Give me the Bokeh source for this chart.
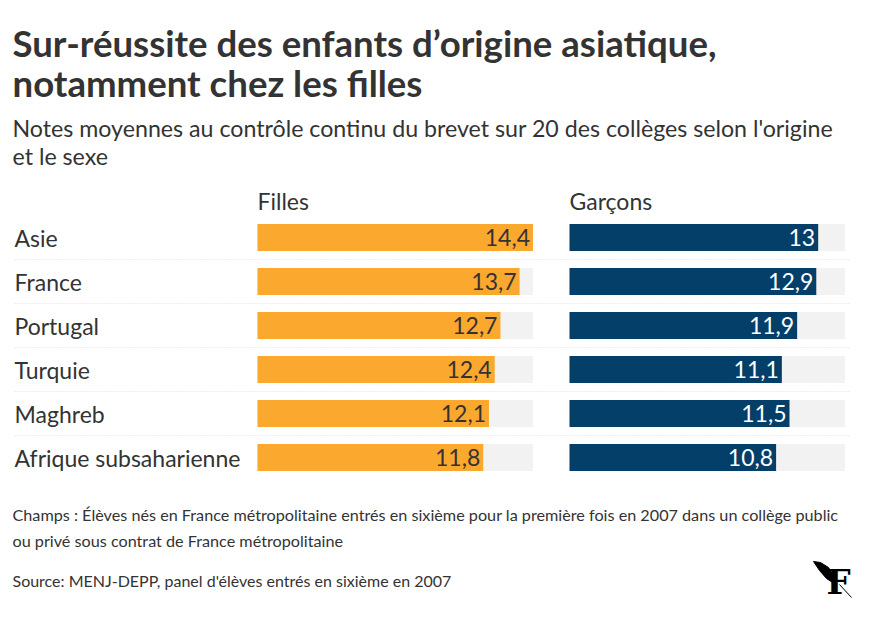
from bokeh.plotting import figure
from bokeh.models import Range1d
from bokeh.core.properties import value
from bokeh.embed import file_html
from bokeh.resources import INLINE

# ---- data ----
categories = ["Asie", "France", "Portugal", "Turquie", "Maghreb", "Afrique subsaharienne"]
filles = [14.4, 13.7, 12.7, 12.4, 12.1, 11.8]
garcons = [13.0, 12.9, 11.9, 11.1, 11.5, 10.8]
series_names = ["Filles", "Garçons"]

title_lines = ["Sur-réussite des enfants d’origine asiatique,", "notamment chez les filles"]
subtitle_lines = ["Notes moyennes au contrôle continu du brevet sur 20 des collèges selon l'origine",
                  "et le sexe"]
note_lines = ["Champs : Élèves nés en France métropolitaine entrés en sixième pour la première fois en 2007 dans un collège public",
              "ou privé sous contrat de France métropolitaine"]
source_line = "Source: MENJ-DEPP, panel d'élèves entrés en sixième en 2007"

# ---- layout constants ----
W, H = 870, 629
PX_PER_UNIT = 19.13
F0, G0 = 257, 569          # pixel where each panel's zero sits
ROW0, ROW_STEP = 237, 44   # pixel center of first row, row spacing
BAR_H = 0.61
ORANGE = "#fba82f"
BLUE = "#033f69"
BG = "#f2f2f2"
TXT = "#333333"
FONT = "Lato"

fmt = lambda v: f"{v:g}".replace(".", ",")
idx = list(range(len(categories)))
vmax = max(filles + garcons)

p = figure(width=W, height=H, output_backend="svg", toolbar_location=None,
           x_range=Range1d(0, W),
           y_range=Range1d((H - ROW0) / ROW_STEP, -ROW0 / ROW_STEP),
           x_axis_location=None, y_axis_location=None, min_border=0,
           background_fill_color="white", border_fill_color="white")
p.outline_line_color = None
p.grid.visible = False
p.extra_x_ranges = {
    "f": Range1d(-F0 / PX_PER_UNIT, (W - F0) / PX_PER_UNIT),
    "g": Range1d(-G0 / PX_PER_UNIT, (W - G0) / PX_PER_UNIT),
}
p.extra_y_ranges = {"py": Range1d(H, 0)}

# separators
p.segment(x0=[14] * (len(idx) - 1), x1=[850] * (len(idx) - 1),
          y0=[i + 0.5 for i in idx[:-1]], y1=[i + 0.5 for i in idx[:-1]],
          line_color="#dddddd", line_width=1, line_dash="1 2")

# bars
for rng, vals, col, tcol in (("f", filles, ORANGE, TXT), ("g", garcons, BLUE, "white")):
    p.hbar(y=idx, left=0, right=[vmax] * len(idx), height=BAR_H, fill_color=BG,
           line_color=None, x_range_name=rng)
    p.hbar(y=idx, left=0, right=vals, height=BAR_H, fill_color=col,
           line_color=None, x_range_name=rng)
    p.text(x=vals, y=idx, text=[fmt(v) for v in vals], x_range_name=rng,
           x_offset=-3, y_offset=0, text_align="right", text_baseline="middle",
           text_font=value(FONT), text_font_size="23px", text_color=tcol)

# category labels
p.text(x=[14] * len(idx), y=idx, text=categories, text_align="left",
       text_baseline="middle", text_font=value(FONT),
       text_font_size="23px", text_color=TXT)

# series headers
for rng, name in (("f", series_names[0]), ("g", series_names[1])):
    p.text(x=[0], y=[200], text=[name], x_range_name=rng, y_range_name="py",
           text_font=value(FONT), text_font_size="23px", text_color=TXT,
           text_baseline="middle")

# title
p.text(x=[12, 12], y=[42, 82], text=title_lines, y_range_name="py",
       text_font=value(FONT), text_font_style="bold", text_font_size="36.6px",
       text_color=TXT, text_baseline="middle")
# subtitle
p.text(x=[12, 12], y=[127, 155], text=subtitle_lines, y_range_name="py",
       text_font=value(FONT), text_font_size="23.2px", text_color=TXT,
       text_baseline="middle")
# notes
p.text(x=[12, 12], y=[514, 540], text=note_lines, y_range_name="py",
       text_font=value(FONT), text_font_size="16.2px", text_color=TXT,
       text_baseline="middle")
p.text(x=[12], y=[580], text=[source_line], y_range_name="py",
       text_font=value(FONT), text_font_size="16px", text_color=TXT,
       text_baseline="middle")

# logo (decorative)
p.patch(x=[813, 820, 828, 833, 832, 826, 819], y=[561, 562, 567, 575, 582, 578, 570],
        y_range_name="py", fill_color="black", line_color="black")
p.segment(x0=[839], y0=[584], x1=[851], y1=[597], y_range_name="py",
          line_color="black", line_width=1)
p.text(x=[838], y=[581], text=["F"], y_range_name="py", text_align="center",
       text_font=value("DejaVu Serif"), text_font_style="bold", text_font_size="34px",
       text_color="black", text_baseline="middle")

open("out.html", "w").write(file_html(p, INLINE))
